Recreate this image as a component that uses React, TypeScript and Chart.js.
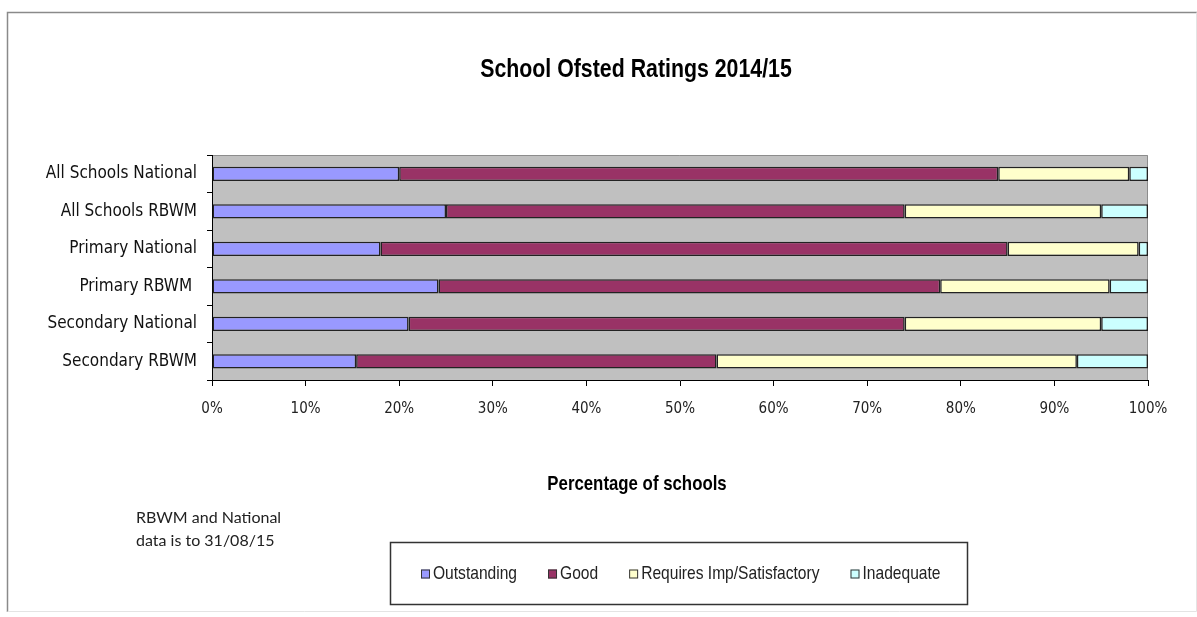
import React, { useEffect, useRef } from "react";
import { Chart, registerables } from "chart.js";

Chart.register(...registerables);

const categories = [
  "All Schools National",
  "All Schools RBWM",
  "Primary National",
  "Primary RBWM ",
  "Secondary National",
  "Secondary RBWM",
];
const outstanding = [20, 25, 18, 24.2, 21, 15.4];
const good = [64, 49, 67, 53.6, 53, 38.5];
const requiresImp = [14, 21, 14, 18.1, 21, 38.5];
const inadequate = [2, 5, 1, 4.1, 5, 7.6];
const seriesLabels = ["Outstanding", "Good", "Requires Imp/Satisfactory", "Inadequate"];
const seriesColors = ["#9999FF", "#993366", "#FFFFCC", "#CCFFFF"];
const titleText = "School Ofsted Ratings 2014/15";
const xAxisTitle = "Percentage of schools";
const noteLines = ["RBWM and National", "data is to 31/08/15"];

const TICK_FONT = "'DejaVu Sans Condensed', 'Liberation Sans Narrow', sans-serif";
const SANS = "'Liberation Sans', Arial, sans-serif";
const NARROW_SCALE = 0.82;

function narrowText(ctx: any, text: string, x: number, y: number, font: string, align: "left" | "center") {
  ctx.save();
  ctx.font = font;
  ctx.textBaseline = "middle";
  ctx.textAlign = "left";
  const w = ctx.measureText(text).width * NARROW_SCALE;
  const startX = align === "center" ? x - w / 2 : x;
  ctx.translate(startX, y);
  ctx.scale(NARROW_SCALE, 1);
  ctx.fillText(text, 0, 0);
  ctx.restore();
  return w;
}

const decorPlugin = {
  id: "decor",
  beforeDraw(chart: any) {
    const { ctx, chartArea } = chart;
    ctx.save();
    ctx.fillStyle = "#ffffff";
    ctx.fillRect(0, 0, chart.width, chart.height);
    ctx.strokeStyle = "#8a8a8a";
    ctx.lineWidth = 1.5;
    ctx.beginPath();
    ctx.moveTo(7.5, 612);
    ctx.lineTo(7.5, 12.5);
    ctx.lineTo(1197, 12.5);
    ctx.stroke();
    ctx.strokeStyle = "#e4e4e4";
    ctx.lineWidth = 1;
    ctx.beginPath();
    ctx.moveTo(7.5, 611.5);
    ctx.lineTo(1196.5, 611.5);
    ctx.lineTo(1196.5, 12.5);
    ctx.stroke();
    ctx.fillStyle = "#C0C0C0";
    ctx.fillRect(chartArea.left, chartArea.top, chartArea.right - chartArea.left, chartArea.bottom - chartArea.top);
    ctx.strokeStyle = "#8c8c8c";
    ctx.lineWidth = 1;
    ctx.beginPath();
    ctx.moveTo(chartArea.left, chartArea.top + 0.5);
    ctx.lineTo(chartArea.right - 0.5, chartArea.top + 0.5);
    ctx.lineTo(chartArea.right - 0.5, chartArea.bottom);
    ctx.stroke();
    ctx.restore();
  },
  afterDraw(chart: any) {
    const { ctx } = chart;
    ctx.save();
    ctx.fillStyle = "#000";
    narrowText(ctx, titleText, 636, 70, `bold 26px ${SANS}`, "center");
    narrowText(ctx, xAxisTitle, 637, 484, `bold 20.5px ${SANS}`, "center");
    // note
    ctx.textAlign = "left";
    ctx.textBaseline = "middle";
    ctx.fillStyle = "#222";
    ctx.font = "16px Lato, 'Open Sans', sans-serif";
    ctx.fillText(noteLines[0], 136, 518);
    ctx.fillText(noteLines[1], 136, 541);
    // legend box
    ctx.strokeStyle = "#333";
    ctx.lineWidth = 1.5;
    ctx.strokeRect(390.5, 542.5, 577, 62);
    let x = 421;
    const y = 574;
    chart.data.datasets.forEach((ds: any) => {
      ctx.fillStyle = ds.backgroundColor;
      ctx.fillRect(x, y - 4.5, 9, 9);
      ctx.strokeStyle = "#333";
      ctx.lineWidth = 1;
      ctx.strokeRect(x + 0.5, y - 4, 8, 8);
      ctx.fillStyle = "#222";
      const w = narrowText(ctx, ds.label, x + 12, y, `19px ${SANS}`, "left");
      x += 12 + w + 31;
    });
    ctx.restore();
  },
};

export default function App() {
  const canvasRef = useRef<HTMLCanvasElement | null>(null);

  useEffect(() => {
    if (!canvasRef.current) return;
    const seriesData = [outstanding, good, requiresImp, inadequate];
    const chart = new Chart(canvasRef.current, {
      type: "bar",
      data: {
        labels: categories,
        datasets: seriesData.map((d, i) => ({
          label: seriesLabels[i],
          data: d,
          backgroundColor: seriesColors[i],
          borderColor: "#222222",
          borderWidth: 1.5,
          borderSkipped: false,
          barPercentage: 0.38,
          categoryPercentage: 1,
        })),
      },
      options: {
        indexAxis: "y",
        responsive: false,
        animation: false,
        layout: { padding: { top: 155, right: 49, bottom: 177, left: 0 } },
        plugins: {
          legend: { display: false },
          title: { display: false },
          tooltip: { enabled: false },
        },
        scales: {
          x: {
            stacked: true,
            min: 0,
            max: 100,
            ticks: {
              stepSize: 10,
              callback: (v: any) => `${v}%`,
              color: "#222",
              font: { family: TICK_FONT, size: 15 },
              padding: 14,
              maxRotation: 0,
            },
            grid: { drawOnChartArea: false, tickLength: 6, color: "#000" },
            border: { display: true, color: "#000" },
            afterFit: (s: any) => {
              s.height = 60;
            },
          },
          y: {
            stacked: true,
            ticks: {
              color: "#111",
              font: { family: TICK_FONT, size: 17 },
              padding: 10,
            },
            grid: { offset: true, drawOnChartArea: false, tickLength: 5, color: "#000" },
            border: { display: true, color: "#000" },
            afterFit: (s: any) => {
              s.width = 212;
            },
          },
        },
      },
      plugins: [decorPlugin],
    });
    return () => chart.destroy();
  }, []);

  return (
    <div style={{ position: "absolute", left: 0, top: 0, width: 1197, height: 617 }}>
      <canvas ref={canvasRef} width={1197} height={617} style={{ display: "block" }} />
    </div>
  );
}
